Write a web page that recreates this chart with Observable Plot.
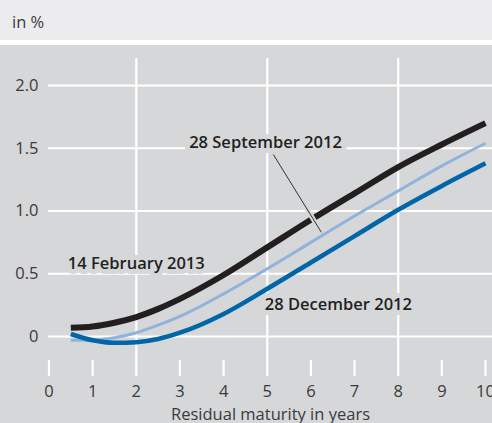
<!DOCTYPE html>
<html>
<head>
<meta charset="utf-8">
<script src="https://cdn.jsdelivr.net/npm/d3@7"></script>
<script src="https://cdn.jsdelivr.net/npm/@observablehq/plot@0.6"></script>
<style>
  html, body { margin: 0; padding: 0; background: #ffffff; }
  #wrap { width: 492px; height: 423px; overflow: hidden; font-family: "Open Sans", sans-serif; }
  #head { height: 40px; background: #ececee; color: #3a3a3a; font-size: 16.5px; line-height: 44px; padding-left: 12px; box-sizing: border-box; }
  #gap { height: 5px; background: #ffffff; }
  #chart svg { display: block; }
</style>
</head>
<body>
<div id="wrap">
  <div id="head">in %</div>
  <div id="gap"></div>
  <div id="chart"></div>
</div>
<script>
// Residual maturity (years)
const maturity = [0.5, 1, 1.5, 2, 2.5, 3, 4, 5, 6, 7, 8, 9, 10];
// Yield curves, in %
const feb2013 = [0.07, 0.08, 0.11, 0.155, 0.22, 0.30, 0.49, 0.71, 0.93, 1.14, 1.35, 1.53, 1.70];
const sep2012 = [-0.03, -0.03, -0.01, 0.03, 0.09, 0.16, 0.34, 0.54, 0.75, 0.96, 1.16, 1.36, 1.54];
const dec2012 = [0.02, -0.03, -0.05, -0.045, -0.02, 0.03, 0.18, 0.38, 0.59, 0.80, 1.01, 1.20, 1.38];

const seriesNames = ["28 September 2012", "28 December 2012", "14 February 2013"];
const seriesColors = ["#8fb3dc", "#0066a8", "#231f20"];
const seriesWidths = [3, 4.5, 6];

const xTicks = [0, 1, 2, 3, 4, 5, 6, 7, 8, 9, 10];
const xGridTicks = [2, 5, 8];
const yTicks = [0, 0.5, 1.0, 1.5, 2.0];

// Curve labels and the leader line
const labelText = ["28 September 2012", "14 February 2013", "28 December 2012"];
const labelX = [4.96, 2.0, 6.63];
const labelY = [1.546, 0.58, 0.255];
const leaderX = [5.14, 6.24];
const leaderY = [1.45, 0.83];

const bg = "#d6d7d9";

const rows = (vals, name) => maturity.map((m, i) => ({m, v: vals[i], name}));
const data = [
  ...rows(sep2012, seriesNames[0]),
  ...rows(dec2012, seriesNames[1]),
  ...rows(feb2013, seriesNames[2])
];
const labels = labelText.map((t, i) => ({t, x: labelX[i], y: labelY[i]}));
const leader = [{x1: leaderX[0], y1: leaderY[0], x2: leaderX[1], y2: leaderY[1]}];

const lineMarks = seriesNames.map((n, i) =>
  Plot.line(data.filter(d => d.name === n), {
    x: "m", y: "v", stroke: seriesColors[i], strokeWidth: seriesWidths[i],
    curve: "monotone-x", strokeLinecap: "butt"
  })
);

const chart = Plot.plot({
  width: 492,
  height: 378,
  marginLeft: 48,
  marginRight: 0,
  marginTop: 13,
  marginBottom: 47,
  style: {background: bg, fontFamily: "Open Sans, sans-serif", fontSize: "16.5px", color: "#3a3a3a"},
  x: {domain: [0, 10], range: [48.5, 485]},
  y: {domain: [0, 2], range: [291, 40]},
  marks: [
    Plot.ruleY(yTicks, {stroke: "#ffffff", strokeWidth: 2.2}),
    Plot.ruleX(xGridTicks, {stroke: "#ffffff", strokeWidth: 2.2}),
    Plot.ruleX(xTicks.filter(t => !xGridTicks.includes(t)), {stroke: "#ffffff", strokeWidth: 2.2, insetTop: 302}),
    Plot.axisY({ticks: yTicks, tickSize: 0, tickPadding: 10, tickFormat: d => d === 0 ? "0" : d.toFixed(1), label: null}),
    Plot.axisX({ticks: xTicks, tickSize: 0, tickPadding: 9, tickFormat: d => String(d), label: null}),
    Plot.text(["Residual maturity in years"], {frameAnchor: "bottom", dy: 43, fill: "#3a3a3a"}),
    ...lineMarks,
    Plot.link(leader, {x1: "x1", y1: "y1", x2: "x2", y2: "y2", stroke: bg, strokeWidth: 5}),
    Plot.link(leader, {x1: "x1", y1: "y1", x2: "x2", y2: "y2", stroke: "#231f20", strokeWidth: 0.9}),
    Plot.text(labels, {x: "x", y: "y", text: "t", fill: "#231f20", fontWeight: 600, stroke: bg, strokeWidth: 10, paintOrder: "stroke"})
  ]
});
document.getElementById("chart").appendChild(chart);
</script>
</body>
</html>
